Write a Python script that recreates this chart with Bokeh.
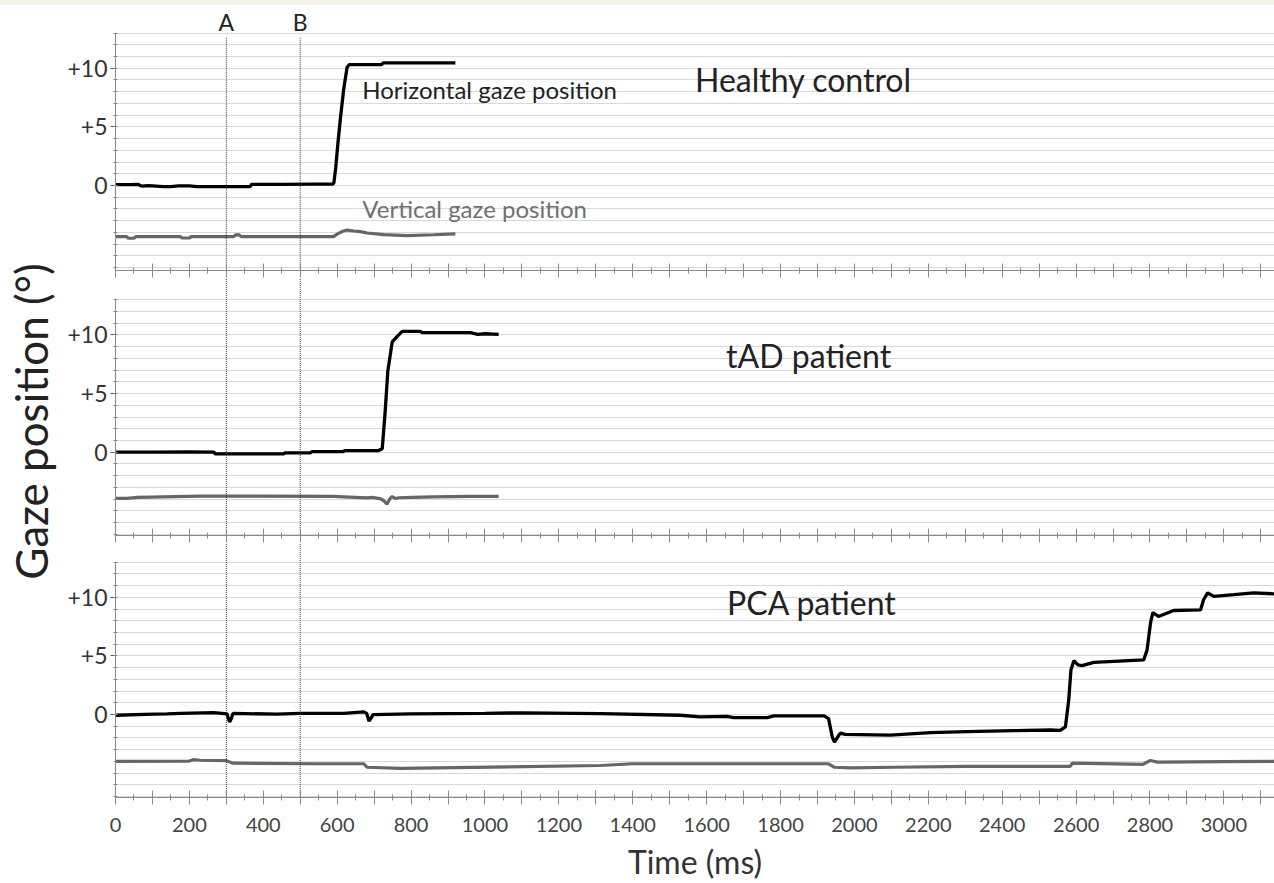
from bokeh.plotting import figure
from bokeh.layouts import column, row
from bokeh.models import Range1d, FixedTicker, Div, CustomLabelingPolicy
from bokeh.core.properties import value
from bokeh.embed import file_html
from bokeh.resources import INLINE
import math

# ---------------- data ----------------
PANEL_TITLES = ["Healthy control", "tAD patient", "PCA patient"]
SERIES_LABELS = ["Horizontal gaze position", "Vertical gaze position"]
Y_TITLE = "Gaze position (°)"
X_TITLE = "Time (ms)"
EVENT_T = [300, 500]
EVENT_LABELS = ["A", "B"]

Y_TICKS = [0, 5, 10]
Y_TICK_LABELS = ["0", "+5", "+10"]
GRID_LEVELS = list(range(-7, 14))
X_MAJOR = list(range(0, 3200, 100))
X_MINOR = list(range(50, 3150, 100))

# Healthy control
HC_H_T = [0, 40, 60, 70, 90, 110, 130, 150, 170, 200, 220, 249, 300, 365, 368, 450, 530,
          587, 591, 596, 602, 609, 618, 627, 633, 680, 720, 724, 800, 860, 920]
HC_H_V = [0.08, 0.08, 0.1, -0.05, -0.02, -0.06, -0.1, -0.1, -0.03, -0.04, -0.1, -0.1, -0.1,
          -0.1, 0.1, 0.1, 0.12, 0.12, 0.2, 1.5, 3.6, 5.8, 8.3, 10.1, 10.3, 10.3, 10.3, 10.45,
          10.45, 10.45, 10.45]
HC_V_T = [0, 30, 35, 50, 55, 175, 180, 200, 205, 320, 325, 335, 340, 590, 600, 615, 627,
          645, 663, 681, 726, 789, 861, 920]
HC_V_V = [-4.36, -4.36, -4.5, -4.5, -4.36, -4.36, -4.48, -4.48, -4.36, -4.36, -4.22, -4.22,
          -4.36, -4.36, -4.15, -3.9, -3.8, -3.88, -3.93, -4.05, -4.19, -4.27, -4.2, -4.13]

# tAD patient
TAD_H_T = [0, 100, 200, 266, 270, 455, 460, 528, 532, 617, 620, 712, 722, 730, 737, 749,
           762, 776, 825, 830, 900, 961, 980, 1000, 1037]
TAD_H_V = [0.0, 0.0, 0.02, 0.0, -0.14, -0.14, -0.05, -0.05, 0.05, 0.05, 0.14, 0.14, 0.3,
           3.5, 6.9, 9.4, 9.85, 10.3, 10.3, 10.2, 10.2, 10.2, 10.05, 10.1, 10.05]
TAD_V_T = [0, 30, 60, 230, 590, 618, 681, 695, 715, 725, 735, 742, 749, 757, 767, 800, 861,
           961, 1037]
TAD_V_V = [-3.94, -3.94, -3.85, -3.74, -3.76, -3.8, -3.9, -3.85, -3.95, -4.1, -4.42, -4.0,
           -3.77, -3.95, -3.88, -3.85, -3.8, -3.76, -3.76]

# PCA patient
PCA_H_T = [0, 104, 140, 176, 266, 302, 306, 309, 314, 318, 437, 500, 618, 672, 680, 686,
           692, 697, 800, 1000, 1100, 1313, 1529, 1583, 1655, 1673, 1764, 1782, 1918, 1930,
           1940, 1946, 1955, 1962, 1975, 2097, 2206, 2305, 2431, 2530, 2557, 2571, 2580,
           2586, 2594, 2605, 2616, 2648, 2702, 2783, 2792, 2802, 2808, 2823, 2864, 2937,
           2945, 2956, 2973, 3027, 3081, 3137]
PCA_H_V = [-0.06, 0.03, 0.05, 0.1, 0.17, 0.05, -0.4, -0.63, -0.3, 0.1, 0.03, 0.1, 0.1, 0.23,
           0.1, -0.55, -0.3, 0.0, 0.05, 0.1, 0.15, 0.08, -0.06, -0.2, -0.15, -0.26, -0.26,
           -0.12, -0.12, -0.35, -1.92, -2.35, -1.9, -1.58, -1.69, -1.75, -1.55, -1.46, -1.38,
           -1.32, -1.35, -1.06, 1.22, 3.8, 4.6, 4.23, 4.17, 4.46, 4.54, 4.66, 5.5, 7.94,
           8.71, 8.37, 8.88, 8.94, 9.8, 10.38, 10.09, 10.23, 10.38, 10.3]
PCA_V_T = [0, 200, 210, 230, 300, 318, 527, 672, 681, 771, 1313, 1400, 1930, 1946, 1990,
           2106, 2305, 2584, 2590, 2780, 2801, 2820, 3000, 3137]
PCA_V_V = [-4.0, -3.97, -3.85, -3.9, -3.94, -4.15, -4.2, -4.2, -4.5, -4.6, -4.35, -4.2, -4.2,
           -4.5, -4.55, -4.5, -4.43, -4.43, -4.15, -4.26, -3.92, -4.06, -4.02, -4.0]

PANEL_DATA = [
    (HC_H_T, HC_H_V, HC_V_T, HC_V_V),
    (TAD_H_T, TAD_H_V, TAD_V_T, TAD_V_V),
    (PCA_H_T, PCA_H_V, PCA_V_T, PCA_V_V),
]

# ---------------- layout ----------------
FONT = "Lato"
W = 1274
STRIP_H = 5
LABEL_W = 63
LEFT = 115 - LABEL_W
HEIGHTS = [273, 265, 340]
BOTTOM_BORDER = [8, 8, 86]
Y_RANGES = [(-7.25, 15.35), (-7.10, 14.81), (-7.08, 14.60)]
TOP = 13
AXIS_COLOR = "#8a8a8a"
GRID_COLOR = "#d9d9d9"
TITLE_POS = [(1862, 9.04), (1876, 8.25), (1885, 9.59)]

x_range = Range1d(0, 3137)

every_other = CustomLabelingPolicy(code="""
for (const i of indices) {
  if (i % 2 == 1) indices.unset(i)
}
return indices
""")
no_labels = CustomLabelingPolicy(code="""
for (const i of indices) {
  indices.unset(i)
}
return indices
""")

figs = []
for i in range(3):
    y0, y1 = Y_RANGES[i]
    last = (i == 2)
    p = figure(width=W - LABEL_W, height=HEIGHTS[i], output_backend="svg",
               toolbar_location=None, x_range=x_range, y_range=Range1d(y0, y1),
               min_border_left=LEFT, min_border_right=0, min_border_top=0,
               min_border_bottom=BOTTOM_BORDER[i])
    p.outline_line_color = None
    p.xgrid.visible = False
    p.ygrid.ticker = FixedTicker(ticks=GRID_LEVELS)
    p.ygrid.grid_line_color = GRID_COLOR
    p.ygrid.grid_line_width = 1.2

    ya = p.yaxis[0]
    ya.ticker = FixedTicker(ticks=Y_TICKS, minor_ticks=GRID_LEVELS)
    ya.major_label_overrides = dict(zip(Y_TICKS, Y_TICK_LABELS))
    ya.bounds = (y0, TOP)
    ya.axis_line_color = AXIS_COLOR
    ya.major_tick_line_color = "#555555"
    ya.minor_tick_line_color = AXIS_COLOR
    ya.major_tick_in = 0
    ya.major_tick_out = 5
    ya.minor_tick_in = 2
    ya.minor_tick_out = 2
    ya.major_label_standoff = 3
    ya.major_label_text_font = FONT
    ya.major_label_text_font_size = "23px"
    ya.major_label_text_color = "#333333"

    xa = p.xaxis[0]
    xa.ticker = FixedTicker(ticks=X_MAJOR, minor_ticks=X_MINOR)
    xa.axis_line_color = AXIS_COLOR
    xa.major_tick_line_color = AXIS_COLOR
    xa.minor_tick_line_color = AXIS_COLOR
    xa.major_tick_in = 7
    xa.major_tick_out = 7
    xa.minor_tick_in = 3
    xa.minor_tick_out = 3
    xa.major_label_text_font = FONT
    if last:
        xa.major_label_policy = every_other
        xa.major_label_text_font_size = "20px"
        xa.major_label_text_color = "#444444"
        xa.major_label_standoff = 13
        xa.axis_label = X_TITLE
        xa.axis_label_text_font = FONT
        xa.axis_label_text_font_size = "32px"
        xa.axis_label_text_font_style = "normal"
        xa.axis_label_text_color = "#333333"
        xa.axis_label_standoff = 7
    else:
        xa.major_label_policy = no_labels
        xa.major_label_text_font_size = "0px"
        xa.major_label_standoff = 0

    ht, hv, vt, vv = PANEL_DATA[i]
    p.line(vt, vv, line_color="#666666", line_width=3.2)
    p.line(ht, hv, line_color="#000000", line_width=3.3)

    top_y = 12.6 if i == 0 else y1 + 2
    p.segment(x0=EVENT_T, x1=EVENT_T, y0=[top_y] * len(EVENT_T), y1=[y0 - 2] * len(EVENT_T),
              line_color="#333333", line_width=1, line_dash="1 1")

    tx, ty = TITLE_POS[i]
    p.text(x=[tx], y=[ty], text=[PANEL_TITLES[i]], text_font=value(FONT),
           text_font_size="32px", text_align="center", text_baseline="alphabetic",
           text_color="#222222")

    if i == 0:
        p.text(x=EVENT_T, y=[13.97] * len(EVENT_T), text=EVENT_LABELS,
               text_font=value(FONT), text_font_size="23px", text_align="center",
               text_baseline="alphabetic", text_color="#222222")
        p.text(x=[668, 668], y=[8.17, -2.0], text=SERIES_LABELS,
               text_font=value(FONT), text_font_size="24px", text_align="left",
               text_baseline="alphabetic", text_color=["#222222", "#707070"])
    figs.append(p)

# narrow figure holding the vertical axis title across all panels
LABEL_H = sum(HEIGHTS)
lab = figure(width=LABEL_W, height=LABEL_H, output_backend="svg", toolbar_location=None,
             x_range=Range1d(0, LABEL_W), y_range=Range1d(0, LABEL_H),
             x_axis_location=None, y_axis_location=None,
             min_border_left=0, min_border_right=0, min_border_top=0, min_border_bottom=0)
lab.outline_line_color = None
lab.grid.visible = False
lab.text(x=[30], y=[LABEL_H - (421 - STRIP_H)], text=[Y_TITLE], angle=math.pi / 2,
         text_font=value(FONT), text_font_size="44px", text_align="center",
         text_baseline="middle", text_color="#222222")

strip = Div(text="", width=W, height=STRIP_H, margin=(0, 0, 0, 0),
            styles={"background-color": "#f5f2e6"})
layout = column(strip, row(lab, column(*figs, spacing=0), spacing=0), spacing=0)

open("out.html", "w").write(file_html(layout, INLINE))
